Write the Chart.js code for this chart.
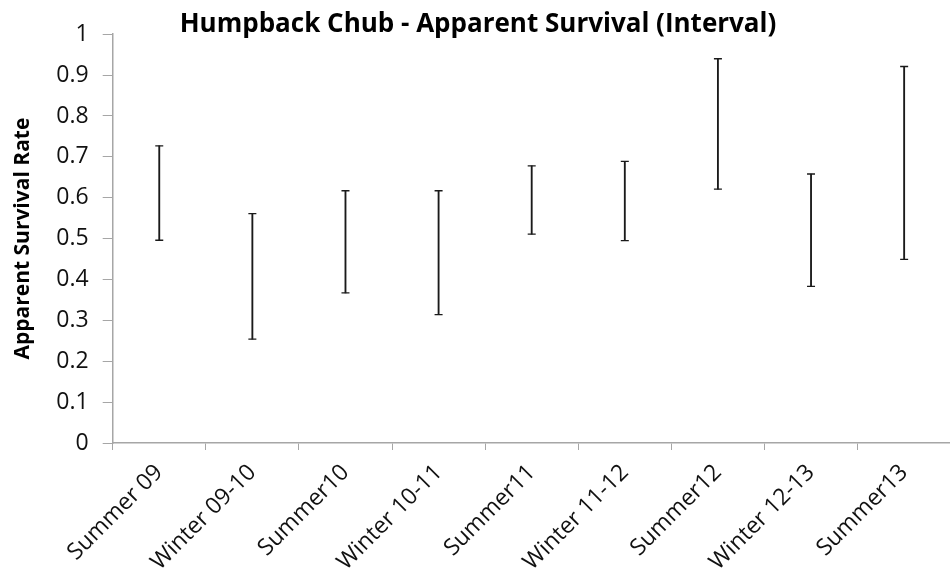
<!DOCTYPE html>
<html lang="en">
<head>
  <meta charset="UTF-8">
  <title>Humpback Chub - Apparent Survival (Interval)</title>
  <script src="https://cdn.jsdelivr.net/npm/chart.js"></script>
  <style>
    html, body {
      margin: 0;
      padding: 0;
      overflow: hidden;
      background: #fff;
    }
    #wrap {
      width: 956px;
      height: 579px;
    }
  </style>
</head>
<body>
  <div id="wrap"><canvas id="grafico"></canvas></div>

  <script>
    // periods and interval ends
    const periods = ['Summer 09', 'Winter 09-10', 'Summer10', 'Winter 10-11', 'Summer11',
                     'Winter 11-12', 'Summer12', 'Winter 12-13', 'Summer13'];
    const lower = [0.496, 0.254, 0.367, 0.314, 0.511, 0.495, 0.621, 0.383, 0.449];
    const upper = [0.727, 0.561, 0.617, 0.617, 0.678, 0.689, 0.940, 0.658, 0.921];
    const yTicks = [0, 0.1, 0.2, 0.3, 0.4, 0.5, 0.6, 0.7, 0.8, 0.9, 1];

    const font = "'Open Sans', sans-serif";
    const axisGrey = '#a6a6a6';

    const ctx = document.getElementById('grafico').getContext('2d');
    new Chart(ctx, {
      data: {
        labels: periods,
        datasets: [
          {
            type: 'bar',
            label: 'Interval',
            data: lower.map((lo, i) => [lo, upper[i]]),
            backgroundColor: '#1a1a1a',
            barThickness: 1.2
          },
          {
            type: 'line',
            label: 'Upper',
            data: upper,
            showLine: false,
            pointStyle: 'line',
            pointRadius: 4,
            pointBorderWidth: 1.3,
            pointBorderColor: '#1a1a1a'
          },
          {
            type: 'line',
            label: 'Lower',
            data: lower,
            showLine: false,
            pointStyle: 'line',
            pointRadius: 4,
            pointBorderWidth: 1.3,
            pointBorderColor: '#1a1a1a'
          }
        ]
      },
      options: {
        responsive: true,
        maintainAspectRatio: false,
        animation: false,
        events: [],
        layout: { padding: 0 },
        plugins: {
          legend: { display: false },
          tooltip: { enabled: false },
          title: {
            display: true,
            text: 'Humpback Chub - Apparent Survival (Interval)',
            color: '#000',
            font: { family: font, size: 26, weight: 'bold' },
            padding: { top: 9, bottom: -6 }
          }
        },
        scales: {
          x: {
            offset: true,
            grid: {
              offset: true,
              drawOnChartArea: false,
              color: axisGrey,
              tickLength: 7
            },
            border: { color: axisGrey, width: 1.5 },
            ticks: {
              color: '#111',
              font: { family: font, size: 23 },
              maxRotation: 45,
              minRotation: 45,
              padding: 9
            },
            afterFit: s => { s.height = 136; }
          },
          y: {
            min: 0,
            max: 1,
            afterBuildTicks: s => { s.ticks = yTicks.map(v => ({ value: v })); },
            grid: {
              drawOnChartArea: false,
              color: axisGrey,
              tickLength: 10
            },
            border: { color: axisGrey, width: 1.5 },
            ticks: {
              color: '#111',
              font: { family: font, size: 23 },
              padding: 14,
              callback: v => String(v)
            },
            title: {
              display: true,
              text: 'Apparent Survival Rate',
              color: '#000',
              font: { family: font, size: 21, weight: 'bold' },
              padding: { top: 10, bottom: 2 }
            },
            afterFit: s => { s.width = 112.7; }
          }
        }
      }
    });
  </script>
</body>
</html>
